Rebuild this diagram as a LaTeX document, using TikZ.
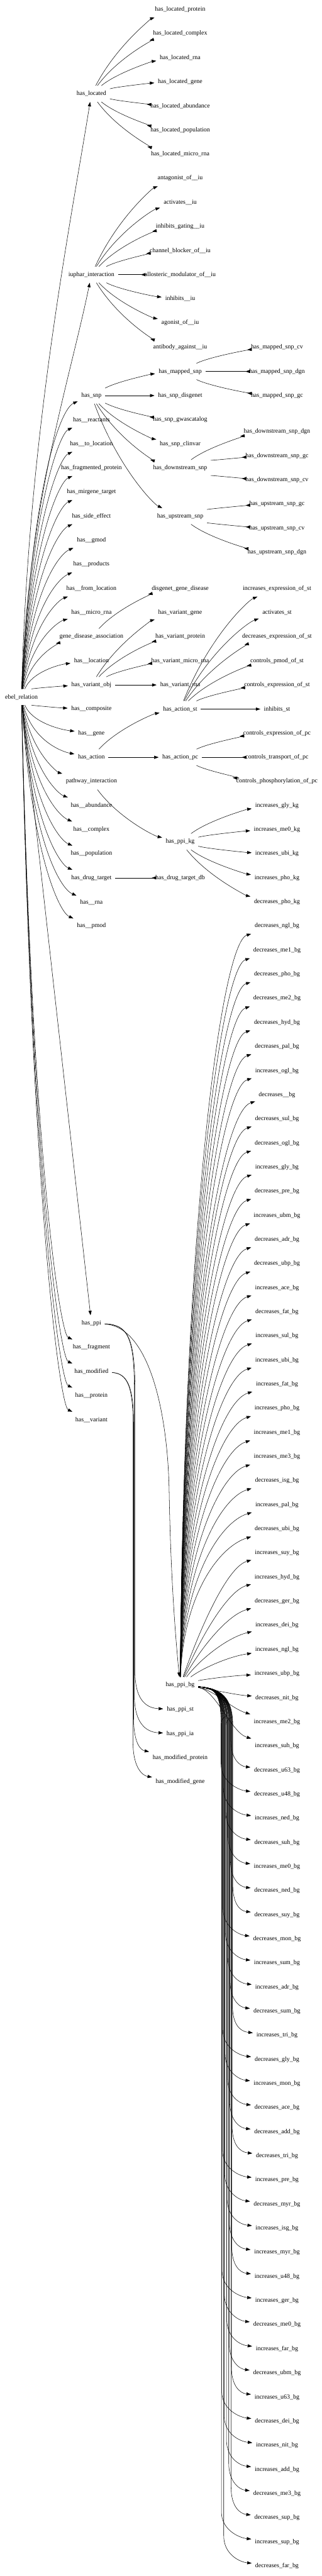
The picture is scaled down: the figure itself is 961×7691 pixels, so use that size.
\documentclass[tikz,border=0pt]{standalone}
\usepackage{fontspec}
\setmainfont{Liberation Serif}
\usetikzlibrary{arrows.meta,calc}
\tikzset{
 lbl/.style={rectangle, inner xsep=8pt, inner ysep=0pt, minimum height=36pt, minimum width=54pt, font=\fontsize{14}{16}\selectfont},
 conn/.style={line width=0.75pt, -{Triangle[length=10pt,width=7pt]}},
}
\newcommand\fanE[2]{\draw[conn] let \p1=(#1), \p2=(#2) in (#1) .. controls ({\x1+0.3*(\x2-\x1)},{\y1+0.6*(\y2-\y1)}) and ({\x2-0.3*(\x2-\x1)},{\y2-0.1*(\y2-\y1)}) .. (#2);}
\newcommand\ebE[1]{\draw[conn] let \p1=(ebel), \p2=(#1) in (ebel) .. controls ({\x1+0.15*(\x2-\x1)},{\y1+0.7*(\y2-\y1)}) and ({\x2-0.45*(\x2-\x1)},{\y2-max(-30pt,min(30pt,0.1*(\y2-\y1)))}) .. (#1);}
\newcommand\nd[4]{\node[lbl] (#1) at (#2,#3) {#4};}
\begin{document}
\begin{tikzpicture}[x=0.75pt,y=-0.75pt]
\fill[white] (0,0) rectangle (961,7691);
\useasboundingbox (0,0) rectangle (961,7691);
% rank 0
\nd{ebel}{64}{2081}{ebel\_relation}
% rank 1
\nd{hasloc}{273}{280}{has\_located}
\nd{iuphar}{273}{820}{iuphar\_interaction}
\nd{hassnp}{273}{1181}{has\_snp}
\nd{react}{273}{1253}{has\_\_reactants}
\nd{toloc}{273}{1325}{has\_\_to\_location}
\nd{fragprot}{273}{1397}{has\_fragmented\_protein}
\nd{mirgene}{273}{1469}{has\_mirgene\_target}
\nd{side}{273}{1541}{has\_side\_effect}
\nd{gmod}{273}{1613}{has\_\_gmod}
\nd{products}{273}{1685}{has\_\_products}
\nd{fromloc}{273}{1757}{has\_\_from\_location}
\nd{microrna}{273}{1829}{has\_\_micro\_rna}
\nd{gda}{273}{1901}{gene\_disease\_association}
\nd{location}{273}{1973}{has\_\_location}
\nd{varobj}{273}{2045}{has\_variant\_obj}
\nd{composite}{273}{2117}{has\_\_composite}
\nd{gene}{273}{2189}{has\_\_gene}
\nd{action}{273}{2261}{has\_action}
\nd{pathway}{273}{2333}{pathway\_interaction}
\nd{abundance}{273}{2405}{has\_\_abundance}
\nd{complex}{273}{2477}{has\_\_complex}
\nd{population}{273}{2549}{has\_\_population}
\nd{drugt}{273}{2621}{has\_drug\_target}
\nd{rna}{273}{2693}{has\_\_rna}
\nd{pmod}{273}{2765}{has\_\_pmod}
\nd{hasppi}{273}{3951}{has\_ppi}
\nd{fragment}{273}{4023}{has\_\_fragment}
\nd{hasmod}{273}{4095}{has\_modified}
\nd{protein}{273}{4167}{has\_\_protein}
\nd{variant}{273}{4239}{has\_\_variant}
% rank 2
\nd{lprot}{538}{28}{has\_located\_protein}
\nd{lcomp}{538}{100}{has\_located\_complex}
\nd{lrna}{538}{172}{has\_located\_rna}
\nd{lgene}{538}{244}{has\_located\_gene}
\nd{labund}{538}{316}{has\_located\_abundance}
\nd{lpop}{538}{388}{has\_located\_population}
\nd{lmirna}{538}{460}{has\_located\_micro\_rna}
\nd{antag}{538}{532}{antagonist\_of\_\_iu}
\nd{activ}{538}{604}{activates\_\_iu}
\nd{inhg}{538}{676}{inhibits\_gating\_\_iu}
\nd{chan}{538}{748}{channel\_blocker\_of\_\_iu}
\nd{allo}{538}{820}{allosteric\_modulator\_of\_\_iu}
\nd{inhib}{538}{892}{inhibits\_\_iu}
\nd{agon}{538}{964}{agonist\_of\_\_iu}
\nd{antib}{538}{1036}{antibody\_against\_\_iu}
\nd{msnp}{538}{1109}{has\_mapped\_snp}
\nd{sdis}{538}{1181}{has\_snp\_disgenet}
\nd{sgwas}{538}{1253}{has\_snp\_gwascatalog}
\nd{sclin}{538}{1325}{has\_snp\_clinvar}
\nd{dsnp}{538}{1397}{has\_downstream\_snp}
\nd{usnp}{538}{1541}{has\_upstream\_snp}
\nd{dgd}{538}{1757}{disgenet\_gene\_disease}
\nd{vgene}{538}{1829}{has\_variant\_gene}
\nd{vprot}{538}{1901}{has\_variant\_protein}
\nd{vmirna}{538}{1973}{has\_variant\_micro\_rna}
\nd{vrna}{538}{2045}{has\_variant\_rna}
\nd{actst}{538}{2117}{has\_action\_st}
\nd{actpc}{538}{2261}{has\_action\_pc}
\nd{ppikg}{538}{2513}{has\_ppi\_kg}
\nd{dtdb}{538}{2621}{has\_drug\_target\_db}
\nd{ppibg}{538}{5031}{has\_ppi\_bg}
\nd{ppist}{538}{5104}{has\_ppi\_st}
\nd{ppiia}{538}{5176}{has\_ppi\_ia}
\nd{modprot}{538}{5248}{has\_modified\_protein}
\nd{modgene}{538}{5320}{has\_modified\_gene}
% rank 3
\nd{mcv}{827}{1037}{has\_mapped\_snp\_cv}
\nd{mdgn}{827}{1109}{has\_mapped\_snp\_dgn}
\nd{mgc}{827}{1181}{has\_mapped\_snp\_gc}
\nd{ddgn}{827}{1289}{has\_downstream\_snp\_dgn}
\nd{dgc}{827}{1361}{has\_downstream\_snp\_gc}
\nd{dcv}{827}{1433}{has\_downstream\_snp\_cv}
\nd{ugc}{827}{1505}{has\_upstream\_snp\_gc}
\nd{ucv}{827}{1577}{has\_upstream\_snp\_cv}
\nd{udgn}{827}{1649}{has\_upstream\_snp\_dgn}
\nd{iest}{827}{1757}{increases\_expression\_of\_st}
\nd{ast}{827}{1829}{activates\_st}
\nd{dest}{827}{1901}{decreases\_expression\_of\_st}
\nd{cpst}{827}{1973}{controls\_pmod\_of\_st}
\nd{cest}{827}{2045}{controls\_expression\_of\_st}
\nd{ist}{827}{2117}{inhibits\_st}
\nd{cepc}{827}{2189}{controls\_expression\_of\_pc}
\nd{ctpc}{827}{2261}{controls\_transport\_of\_pc}
\nd{cppc}{827}{2333}{controls\_phosphorylation\_of\_pc}
\nd{kgly}{827}{2405}{increases\_gly\_kg}
\nd{kme}{827}{2477}{increases\_me0\_kg}
\nd{kubi}{827}{2549}{increases\_ubi\_kg}
\nd{kpho}{827}{2621}{increases\_pho\_kg}
\nd{kdpho}{827}{2693}{decreases\_pho\_kg}
\foreach \lab [count=\i from 0] in {decreases\_ngl\_bg, decreases\_me1\_bg, decreases\_pho\_bg, decreases\_me2\_bg, decreases\_hyd\_bg, decreases\_pal\_bg, increases\_ogl\_bg, decreases\_\_bg, decreases\_sul\_bg, decreases\_ogl\_bg, increases\_gly\_bg, decreases\_pre\_bg, increases\_ubm\_bg, decreases\_adr\_bg, decreases\_ubp\_bg, increases\_ace\_bg, decreases\_fat\_bg, increases\_sul\_bg, increases\_ubi\_bg, increases\_fat\_bg, increases\_pho\_bg, increases\_me1\_bg, increases\_me3\_bg, decreases\_isg\_bg, increases\_pal\_bg, decreases\_ubi\_bg, increases\_suy\_bg, increases\_hyd\_bg, decreases\_ger\_bg, increases\_dei\_bg, increases\_ngl\_bg, increases\_ubp\_bg, decreases\_nit\_bg, increases\_me2\_bg, increases\_suh\_bg, decreases\_u63\_bg, decreases\_u48\_bg, increases\_ned\_bg, decreases\_suh\_bg, increases\_me0\_bg, decreases\_ned\_bg, decreases\_suy\_bg, decreases\_mon\_bg, increases\_sum\_bg, increases\_adr\_bg, decreases\_sum\_bg, increases\_tri\_bg, decreases\_gly\_bg, increases\_mon\_bg, decreases\_ace\_bg, decreases\_add\_bg, decreases\_tri\_bg, increases\_pre\_bg, decreases\_myr\_bg, increases\_isg\_bg, increases\_myr\_bg, increases\_u48\_bg, increases\_ger\_bg, decreases\_me0\_bg, increases\_far\_bg, decreases\_ubm\_bg, increases\_u63\_bg, decreases\_dei\_bg, increases\_nit\_bg, increases\_add\_bg, decreases\_me3\_bg, decreases\_sup\_bg, increases\_sup\_bg, decreases\_far\_bg}{
  \pgfmathsetmacro\yy{2765+72*\i}
  \node[lbl] (hg\i) at (827,\yy) {\lab};
}
% edges from root
\draw[conn] (ebel) .. controls (85,1300) and (205,700) .. (hasloc);
\draw[conn] (ebel) .. controls (85,1500) and (205,1150) .. (iuphar);
\foreach \t in {hassnp,react,toloc,fragprot,mirgene,side,gmod,products,fromloc,microrna,gda,location,varobj,composite,gene,action,pathway,abundance,complex,population,drugt,rna,pmod,fragment,hasmod,protein,variant}{\ebE{\t}}
\draw[conn] (ebel) -- (hasppi);
% fans
\foreach \t in {lprot,lcomp,lrna,lgene,labund,lpop,lmirna}{\fanE{hasloc}{\t}}
\foreach \t in {antag,activ,inhg,chan,allo,inhib,agon,antib}{\fanE{iuphar}{\t}}
\foreach \t in {msnp,sdis,sgwas,sclin,dsnp,usnp}{\fanE{hassnp}{\t}}
\foreach \t in {mcv,mdgn,mgc}{\fanE{msnp}{\t}}
\foreach \t in {ddgn,dgc,dcv}{\fanE{dsnp}{\t}}
\foreach \t in {ugc,ucv,udgn}{\fanE{usnp}{\t}}
\fanE{gda}{dgd}
\foreach \t in {vgene,vprot,vmirna,vrna}{\fanE{varobj}{\t}}
\foreach \t in {actst,actpc}{\fanE{action}{\t}}
\foreach \t in {iest,ast,dest,cpst,cest,ist}{\fanE{actst}{\t}}
\foreach \t in {cepc,ctpc,cppc}{\fanE{actpc}{\t}}
\fanE{pathway}{ppikg}
\foreach \t in {kgly,kme,kubi,kpho,kdpho}{\fanE{ppikg}{\t}}
\fanE{drugt}{dtdb}
% has_ppi and has_modified
\draw[conn] (hasppi) .. controls (440,3960) and (500,4200) .. (505,4450) .. controls (510,4750) and (530,4950) .. (ppibg);
\draw[conn] (hasppi) .. controls (380,3955) and (403,3990) .. (403,4150) -- (403,4990) .. controls (403,5080) and (440,5100) .. (ppist);
\draw[conn] (hasppi) .. controls (380,3955) and (401,3990) .. (401,4150) -- (401,5060) .. controls (401,5150) and (440,5172) .. (ppiia);
\draw[conn] (hasmod) .. controls (380,4100) and (399,4140) .. (399,4250) -- (399,5130) .. controls (399,5205) and (420,5225) .. (modprot);
\draw[conn] (hasmod) .. controls (380,4100) and (397,4140) .. (397,4250) -- (397,5200) .. controls (397,5285) and (430,5302) .. (modgene);
% has_ppi_bg fan
\foreach \i in {0,...,25}{
  \pgfmathsetmacro\yy{2765+72*\i}
  \pgfmathsetmacro\dy{5031-\yy}
  \pgfmathsetmacro\ca{\yy+0.4*\dy}
  \pgfmathsetmacro\cb{\yy+min(50,0.3*\dy)}
  \draw[conn] (ppibg) .. controls (548,\ca) and (660,\cb) .. (hg\i);
}
\foreach \i in {26,...,31}{
  \pgfmathsetmacro\yy{2765+72*\i}
  \pgfmathsetmacro\dy{5031-\yy}
  \pgfmathsetmacro\ca{\yy+0.55*\dy}
  \pgfmathsetmacro\cb{\yy+min(40,0.2*\dy)}
  \draw[conn] (ppibg) .. controls (600,\ca) and (680,\cb) .. (hg\i);
}
\draw[conn] (ppibg) .. controls (640,5045) and (700,5060) .. (hg32);
\draw[conn] (ppibg) .. controls (640,5045) and (690,5101) .. (hg33);
\draw[conn] (ppibg) .. controls (645,5045) and (690,5173) .. (hg34);
\foreach \i in {35,...,68}{
  \pgfmathsetmacro\yy{2765+72*\i}
  \pgfmathsetmacro\xb{660+mod(\i*7,36)}
  \draw[conn] (ppibg) .. controls (640,5040) and (\xb,5050) .. (\xb,5150) -- (\xb,\yy-90) .. controls (\xb,\yy-35) and (715,\yy-12) .. (hg\i);
}
\end{tikzpicture}
\end{document}
